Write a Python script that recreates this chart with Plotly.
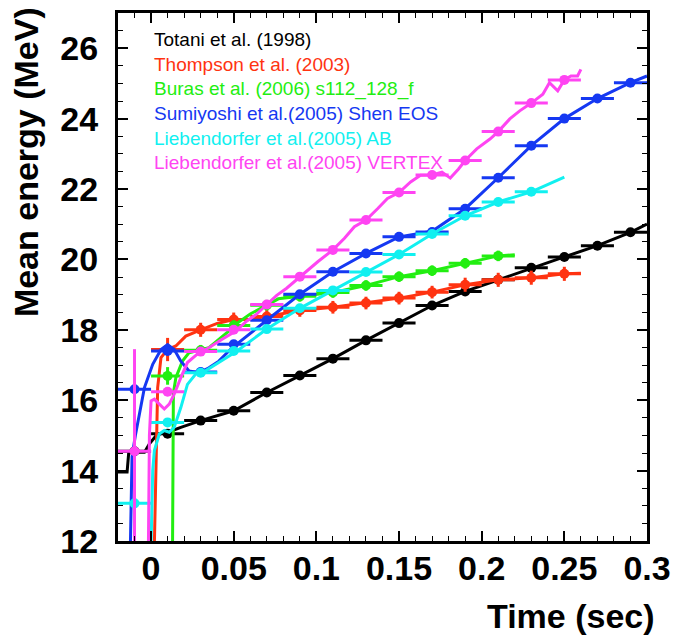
import plotly.graph_objects as go

# ---------------- data ----------------
# Totani et al. (1998)
totani_t = [-0.01, 0.01, 0.03, 0.05, 0.07, 0.09, 0.11, 0.13, 0.15, 0.17, 0.19, 0.21, 0.23, 0.25, 0.27, 0.29]
totani_e = [14.55, 15.05, 15.42, 15.70, 16.22, 16.70, 17.18, 17.70, 18.19, 18.69, 19.09, 19.42, 19.76, 20.07, 20.39, 20.77]
totani_curve_t = [-0.02, -0.0145, -0.0135, -0.004, -0.001, 0.003, 0.008, 0.013, 0.018, 0.03, 0.05, 0.07,
                  0.09, 0.11, 0.13, 0.15, 0.17, 0.19, 0.21, 0.23, 0.25, 0.27, 0.29, 0.30]
totani_curve_e = [13.96, 13.96, 14.52, 14.52, 14.76, 14.99, 15.09, 15.14, 15.23, 15.42, 15.70, 16.22,
                  16.70, 17.18, 17.70, 18.19, 18.69, 19.09, 19.42, 19.76, 20.07, 20.39, 20.77, 21.00]

# Thompson et al. (2003)
thompson_t = [0.01, 0.03, 0.05, 0.07, 0.09, 0.11, 0.13, 0.15, 0.17, 0.19, 0.21, 0.23, 0.25]
thompson_e = [17.44, 18.00, 18.29, 18.38, 18.55, 18.64, 18.76, 18.90, 19.07, 19.28, 19.42, 19.48, 19.59]
thompson_err = [0.33, 0.20, 0.20, 0.18, 0.18, 0.18, 0.18, 0.18, 0.18, 0.20, 0.20, 0.20, 0.20]
thompson_curve_t = [0.002, 0.003, 0.004, 0.006, 0.01, 0.015, 0.021, 0.03, 0.04, 0.05, 0.06, 0.07, 0.08,
                    0.09, 0.11, 0.13, 0.15, 0.17, 0.19, 0.21, 0.23, 0.25, 0.26]
thompson_curve_e = [11.9, 14.5, 16.36, 17.21, 17.44, 17.54, 17.82, 18.00, 18.18, 18.29, 18.30, 18.38, 18.47,
                    18.55, 18.64, 18.76, 18.90, 19.07, 19.28, 19.42, 19.48, 19.59, 19.61]

# Buras et al. (2006) s112_128_f
buras_t = [0.01, 0.03, 0.05, 0.07, 0.09, 0.11, 0.13, 0.15, 0.17, 0.19, 0.21]
buras_e = [16.69, 17.42, 18.12, 18.70, 18.95, 19.06, 19.26, 19.51, 19.68, 19.89, 20.10]
buras_err = [0.25, 0.15, 0.15, 0.15, 0.15, 0.15, 0.15, 0.15, 0.15, 0.15, 0.15]
buras_curve_t = [0.013, 0.0135, 0.015, 0.019, 0.023, 0.03, 0.035, 0.041, 0.047, 0.05, 0.06, 0.07, 0.077,
                 0.09, 0.11, 0.13, 0.15, 0.17, 0.19, 0.21, 0.22]
buras_curve_e = [11.9, 16.2, 16.64, 17.11, 17.35, 17.42, 17.49, 17.73, 17.96, 18.12, 18.45, 18.70, 18.88,
                 18.95, 19.06, 19.26, 19.51, 19.68, 19.89, 20.10, 20.13]

# Sumiyoshi et al.(2005) Shen EOS
sumi_t = [-0.01, 0.01, 0.03, 0.05, 0.07, 0.09, 0.11, 0.13, 0.15, 0.17, 0.19, 0.21, 0.23, 0.25, 0.27, 0.29]
sumi_e = [16.31, 17.40, 16.80, 17.59, 18.27, 19.01, 19.65, 20.17, 20.64, 20.78, 21.44, 22.32, 23.23, 24.00, 24.57, 25.02]
sumi_err = [0.12] * 16
sumi_curve_t = [-0.0125, -0.0115, -0.0095, -0.007, -0.004, 0.001, 0.006, 0.01, 0.014, 0.018, 0.023, 0.029,
                0.035, 0.041, 0.049, 0.07, 0.09, 0.11, 0.13, 0.15, 0.17, 0.19, 0.21, 0.23, 0.25, 0.27, 0.29, 0.30]
sumi_curve_e = [11.9, 14.4, 15.0, 15.6, 16.36, 17.02, 17.44, 17.58, 17.44, 17.11, 16.83, 16.78,
                16.92, 17.11, 17.49, 18.27, 19.01, 19.65, 20.17, 20.64, 20.80, 21.44, 22.32, 23.23, 24.00, 24.57, 25.02, 25.21]

# Liebendorfer et al.(2005) AB
ab_t = [-0.01, 0.01, 0.03, 0.05, 0.07, 0.09, 0.11, 0.13, 0.15, 0.17, 0.19, 0.21, 0.23]
ab_e = [13.07, 15.37, 16.78, 17.40, 18.02, 18.61, 19.12, 19.64, 20.14, 20.72, 21.24, 21.63, 21.92]
ab_curve_t = [0.0, 0.001, 0.002, 0.005, 0.008, 0.011, 0.014, 0.018, 0.022, 0.027, 0.031, 0.039, 0.047, 0.052,
              0.07, 0.09, 0.11, 0.13, 0.15, 0.17, 0.19, 0.21, 0.23, 0.25]
ab_curve_e = [11.9, 14.0, 14.57, 15.04, 15.14, 15.09, 15.23, 15.79, 16.45, 16.74, 16.78, 17.02, 17.25, 17.40,
              18.02, 18.61, 19.12, 19.64, 20.14, 20.72, 21.24, 21.63, 21.92, 22.34]

# Liebendorfer et al.(2005) VERTEX
vx_t = [-0.01, 0.01, 0.03, 0.05, 0.07, 0.09, 0.11, 0.13, 0.15, 0.17, 0.19, 0.21, 0.23, 0.25]
vx_e = [14.55, 16.24, 17.38, 18.00, 18.72, 19.51, 20.27, 21.12, 21.90, 22.40, 22.81, 23.63, 24.44, 25.10]
vx_err = [2.9, 0, 0, 0, 0, 0, 0, 0, 0, 0, 0, 0, 0, 0]
vx_curve_t = [-0.0016, -0.001, 0.0, 0.002, 0.005, 0.008, 0.011, 0.014, 0.018, 0.022, 0.029, 0.035, 0.043,
              0.051, 0.058, 0.064, 0.07, 0.076, 0.082, 0.09, 0.101, 0.11, 0.117, 0.123, 0.13, 0.137, 0.143,
              0.15, 0.157, 0.163, 0.17, 0.176, 0.181, 0.186, 0.19, 0.197, 0.205, 0.21, 0.217, 0.223, 0.23,
              0.237, 0.241, 0.246, 0.25, 0.254, 0.258, 0.26]
vx_curve_e = [11.9, 15.0, 15.98, 16.03, 15.89, 15.75, 15.89, 16.17, 16.64, 17.07, 17.35, 17.49, 17.73,
              17.96, 18.25, 18.45, 18.72, 18.98, 19.18, 19.51, 19.94, 20.27, 20.60, 20.93, 21.12, 21.44, 21.73,
              21.90, 22.20, 22.39, 22.40, 22.48, 22.31, 22.57, 22.81, 23.14, 23.42, 23.63, 23.99, 24.22, 24.44,
              24.69, 25.02, 24.79, 25.10, 25.21, 25.21, 25.40]

labels = ["Totani et al. (1998)", "Thompson et al. (2003)", "Buras et al. (2006) s112_128_f",
          "Sumiyoshi et al.(2005) Shen EOS", "Liebendorfer et al.(2005) AB", "Liebendorfer et al.(2005) VERTEX"]
colors = ["#000000", "#ff3311", "#22ee11", "#1538f2", "#11f0f0", "#ff44f2"]

series = [
    (totani_curve_t, totani_curve_e, totani_t, totani_e, None),
    (thompson_curve_t, thompson_curve_e, thompson_t, thompson_e, thompson_err),
    (buras_curve_t, buras_curve_e, buras_t, buras_e, buras_err),
    (sumi_curve_t, sumi_curve_e, sumi_t, sumi_e, sumi_err),
    (ab_curve_t, ab_curve_e, ab_t, ab_e, None),
    (vx_curve_t, vx_curve_e, vx_t, vx_e, vx_err),
]

FONT = "Liberation Sans"
fig = go.Figure()
for (ct, ce, t, e, err), col, lab in zip(series, colors, labels):
    fig.add_trace(go.Scatter(x=ct, y=ce, mode="lines", line=dict(color=col, width=3),
                             showlegend=False, hoverinfo="skip"))
    ey = dict(type="data", array=err, thickness=3, width=0, color=col, visible=True) if err else dict(visible=False)
    fig.add_trace(go.Scatter(x=t, y=e, mode="markers", name=lab,
                             marker=dict(color=col, size=10, line=dict(width=0)),
                             error_x=dict(type="constant", value=0.01, thickness=3, width=0, color=col),
                             error_y=ey, showlegend=False))

# legend as text
legend_y = [0.9492, 0.9021, 0.8559, 0.8098, 0.7627, 0.7175]
for lab, col, yy in zip(labels, colors, legend_y):
    fig.add_annotation(xref="paper", yref="paper", x=0.0637, y=yy, xanchor="left", yanchor="middle",
                       text=lab, showarrow=False, font=dict(family=FONT, size=19, color=col))

fig.add_annotation(xref="paper", yref="paper", x=-0.1740, y=0.7175, textangle=-90,
                   xanchor="center", yanchor="middle", text="Mean energy (MeV)", showarrow=False,
                   font=dict(family=FONT, size=34, color="black", weight="bold"))
fig.add_annotation(xref="paper", yref="paper", x=1.018, y=-0.1412, xanchor="right", yanchor="middle",
                   text="Time (sec)", showarrow=False,
                   font=dict(family=FONT, size=34, color="black", weight="bold"))

axis_common = dict(showline=True, linewidth=3, linecolor="black", mirror="ticks", showgrid=False,
                   zeroline=False, ticks="inside", tickwidth=1.5, tickcolor="black",
                   tickfont=dict(family=FONT, size=34, color="black", weight="bold"))
fig.update_xaxes(range=[-0.02, 0.3], tick0=0, dtick=0.05, ticklen=10, ticklabelstandoff=-5,
                 minor=dict(dtick=0.01, ticklen=5, tickwidth=1.2, ticks="inside", tickcolor="black"),
                 **axis_common)
fig.update_yaxes(range=[12, 27], tick0=12, dtick=2, ticklen=10, ticklabelstandoff=10,
                 minor=dict(dtick=0.5, ticklen=5, tickwidth=1.2, ticks="inside", tickcolor="black"),
                 **axis_common)

fig.update_layout(width=681, height=636, margin=dict(l=118, r=29, t=10, b=95),
                  plot_bgcolor="white", paper_bgcolor="white")

fig.write_html("out.html")
